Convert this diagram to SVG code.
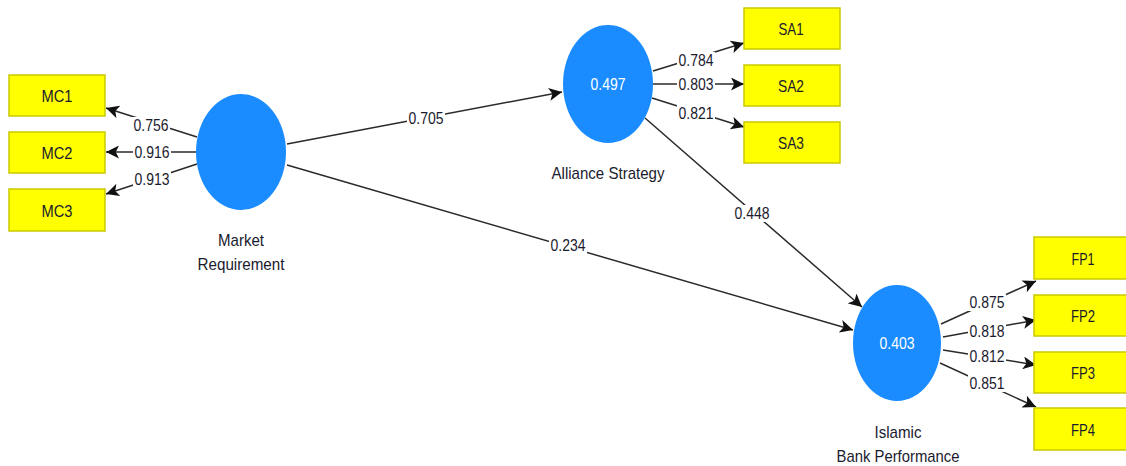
<svg xmlns="http://www.w3.org/2000/svg" width="1126" height="466" viewBox="0 0 1126 466">
<style>
.bg{fill:#ffffff}
.box{fill:#ffff00;stroke:#c9c900;stroke-width:1.5}
.lv{fill:#1a8cff}
.bt{font-family:"Liberation Sans",Arial,sans-serif;font-size:17px;fill:#1b1b2e;text-anchor:middle}
.nm{font-family:"Liberation Sans",Arial,sans-serif;font-size:17px;fill:#1b1b2e;text-anchor:middle}
.r2{font-family:"Liberation Sans",Arial,sans-serif;font-size:17px;fill:#ffffff;text-anchor:middle}
.ln{stroke:#2a2a2a;stroke-width:1.5;fill:none}
.lb{fill:#ffffff}
.lt{font-family:"Liberation Sans",Arial,sans-serif;font-size:17px;fill:#1b1b2e;text-anchor:middle}
</style>
<defs>
<marker id="ah" viewBox="0 0 12 12" refX="12" refY="6" markerWidth="13" markerHeight="13" markerUnits="userSpaceOnUse" orient="auto">
<path d="M0,0 L12,6 L0,12 L3,6 z" fill="#111"/>
</marker>
</defs>
<rect class="bg" x="0" y="0" width="1126" height="466"/>

<g id="connectors">
<line class="ln" x1="197" y1="137" x2="106" y2="108" marker-end="url(#ah)"/>
<line class="ln" x1="197" y1="152" x2="106" y2="152" marker-end="url(#ah)"/>
<line class="ln" x1="197" y1="164" x2="106" y2="194" marker-end="url(#ah)"/>
<line class="ln" x1="287" y1="144" x2="562" y2="92" marker-end="url(#ah)"/>
<line class="ln" x1="287" y1="165" x2="853" y2="330" marker-end="url(#ah)"/>
<line class="ln" x1="645" y1="118" x2="862" y2="307" marker-end="url(#ah)"/>
<line class="ln" x1="653" y1="71" x2="744" y2="43" marker-end="url(#ah)"/>
<line class="ln" x1="653" y1="84" x2="744" y2="84" marker-end="url(#ah)"/>
<line class="ln" x1="652" y1="98" x2="744" y2="127" marker-end="url(#ah)"/>
<line class="ln" x1="941" y1="324" x2="1036" y2="281" marker-end="url(#ah)"/>
<line class="ln" x1="943" y1="337" x2="1036" y2="320" marker-end="url(#ah)"/>
<line class="ln" x1="943" y1="350" x2="1036" y2="365" marker-end="url(#ah)"/>
<line class="ln" x1="940" y1="363" x2="1036" y2="407" marker-end="url(#ah)"/>

<rect class="lb" x="132" y="117" width="38" height="17"/><text class="lt" x="151" y="131" textLength="35" lengthAdjust="spacingAndGlyphs">0.756</text>
<rect class="lb" x="133" y="144" width="38" height="17"/><text class="lt" x="152" y="158" textLength="35" lengthAdjust="spacingAndGlyphs">0.916</text>
<rect class="lb" x="133" y="171" width="38" height="17"/><text class="lt" x="152" y="185" textLength="35" lengthAdjust="spacingAndGlyphs">0.913</text>
<rect class="lb" x="407" y="110" width="38" height="17"/><text class="lt" x="426" y="124" textLength="35" lengthAdjust="spacingAndGlyphs">0.705</text>
<rect class="lb" x="549" y="237" width="38" height="17"/><text class="lt" x="568" y="251" textLength="35" lengthAdjust="spacingAndGlyphs">0.234</text>
<rect class="lb" x="733" y="205" width="38" height="17"/><text class="lt" x="752" y="219" textLength="35" lengthAdjust="spacingAndGlyphs">0.448</text>
<rect class="lb" x="677" y="52" width="38" height="17"/><text class="lt" x="696" y="66" textLength="35" lengthAdjust="spacingAndGlyphs">0.784</text>
<rect class="lb" x="677" y="76" width="38" height="17"/><text class="lt" x="696" y="90" textLength="35" lengthAdjust="spacingAndGlyphs">0.803</text>
<rect class="lb" x="677" y="105" width="38" height="17"/><text class="lt" x="696" y="119" textLength="35" lengthAdjust="spacingAndGlyphs">0.821</text>
<rect class="lb" x="968" y="294" width="38" height="17"/><text class="lt" x="987" y="308" textLength="35" lengthAdjust="spacingAndGlyphs">0.875</text>
<rect class="lb" x="968" y="323" width="38" height="17"/><text class="lt" x="987" y="337" textLength="35" lengthAdjust="spacingAndGlyphs">0.818</text>
<rect class="lb" x="968" y="348" width="38" height="17"/><text class="lt" x="987" y="362" textLength="35" lengthAdjust="spacingAndGlyphs">0.812</text>
<rect class="lb" x="968" y="375" width="38" height="17"/><text class="lt" x="987" y="389" textLength="35" lengthAdjust="spacingAndGlyphs">0.851</text>
</g>

<g id="MC1"><rect class="box" x="9" y="75" width="96" height="41"/><text class="bt" x="57" y="102" textLength="31" lengthAdjust="spacingAndGlyphs">MC1</text></g>
<g id="MC2"><rect class="box" x="9" y="132" width="96" height="41"/><text class="bt" x="57" y="159" textLength="31" lengthAdjust="spacingAndGlyphs">MC2</text></g>
<g id="MC3"><rect class="box" x="9" y="189" width="96" height="42"/><text class="bt" x="57" y="217" textLength="31" lengthAdjust="spacingAndGlyphs">MC3</text></g>

<g id="SA1"><rect class="box" x="744" y="8" width="96" height="41"/><text class="bt" x="791" y="35" textLength="25" lengthAdjust="spacingAndGlyphs">SA1</text></g>
<g id="SA2"><rect class="box" x="744" y="65" width="96" height="41"/><text class="bt" x="791" y="92" textLength="26" lengthAdjust="spacingAndGlyphs">SA2</text></g>
<g id="SA3"><rect class="box" x="744" y="122" width="96" height="41"/><text class="bt" x="791" y="149" textLength="26" lengthAdjust="spacingAndGlyphs">SA3</text></g>

<g id="FP1"><rect class="box" x="1034" y="237" width="96" height="42"/><text class="bt" x="1083" y="265" textLength="23" lengthAdjust="spacingAndGlyphs">FP1</text></g>
<g id="FP2"><rect class="box" x="1034" y="295" width="96" height="41"/><text class="bt" x="1083" y="322" textLength="24" lengthAdjust="spacingAndGlyphs">FP2</text></g>
<g id="FP3"><rect class="box" x="1034" y="352" width="96" height="41"/><text class="bt" x="1083" y="379" textLength="24" lengthAdjust="spacingAndGlyphs">FP3</text></g>
<g id="FP4"><rect class="box" x="1034" y="408" width="96" height="42"/><text class="bt" x="1083" y="436" textLength="24" lengthAdjust="spacingAndGlyphs">FP4</text></g>

<g id="MarketRequirement">
<ellipse class="lv" cx="241" cy="152" rx="45" ry="58"/>
<text class="nm" x="241" y="246" textLength="46" lengthAdjust="spacingAndGlyphs">Market</text>
<text class="nm" x="241" y="270" textLength="87" lengthAdjust="spacingAndGlyphs">Requirement</text>
</g>
<g id="AllianceStrategy">
<ellipse class="lv" cx="608" cy="84" rx="45" ry="59"/>
<text class="r2" x="608" y="90" textLength="35" lengthAdjust="spacingAndGlyphs">0.497</text>
<text class="nm" x="608" y="179" textLength="113" lengthAdjust="spacingAndGlyphs">Alliance Strategy</text>
</g>
<g id="IslamicBankPerformance">
<ellipse class="lv" cx="897" cy="343" rx="44" ry="58"/>
<text class="r2" x="897" y="349" textLength="35" lengthAdjust="spacingAndGlyphs">0.403</text>
<text class="nm" x="898" y="438" textLength="47" lengthAdjust="spacingAndGlyphs">Islamic</text>
<text class="nm" x="898" y="462" textLength="123" lengthAdjust="spacingAndGlyphs">Bank Performance</text>
</g>
</svg>
